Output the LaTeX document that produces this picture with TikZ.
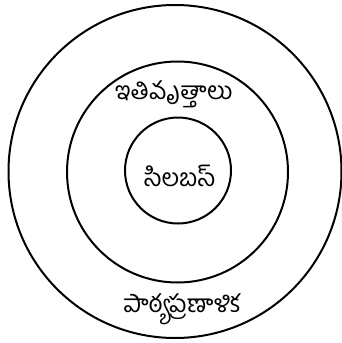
\documentclass[tikz,border=0pt]{standalone}
\usepackage{fontspec}
\newfontfamily\telugu[Script=Telugu]{Hind Guntur}
\begin{document}
\begin{tikzpicture}[x=1pt,y=-1pt,
  ring/.style={draw=black,line width=2pt,circle,inner sep=0pt},
  lbl/.style={font=\telugu\fontsize{24.5}{28}\selectfont,inner sep=0pt}]
\useasboundingbox (0,0) rectangle (342,343);
\node[ring,minimum size=333pt] (outer) at (175,171.5) {};
\node[ring,minimum size=221pt] (middle) at (177.5,172) {};
\node[ring,minimum size=106pt] (inner) at (178,170.5) {};
\node[lbl] (syl) at (180,176) {సిలబస్};
\node[lbl] (themes) at (174,94) {ఇతివృత్తాలు};
\node[lbl] (curr) at (182,309) {పాఠ్యప్రణాళిక};
\end{tikzpicture}
\end{document}
